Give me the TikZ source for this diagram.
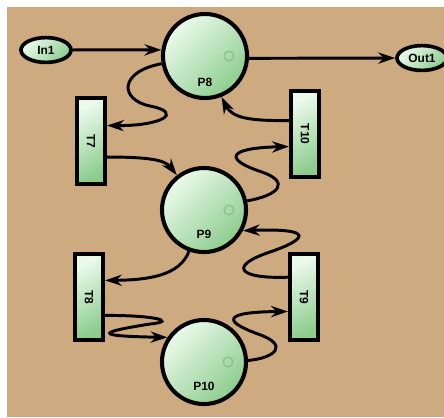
\documentclass[tikz,border=0pt]{standalone}
\usepackage{fontspec}
\setmainfont{Liberation Sans}
\usetikzlibrary{arrows, arrows.meta, shapes, positioning, backgrounds}
\definecolor{paper}{RGB}{206,170,128}
\definecolor{mintlight}{RGB}{236,250,236}
\definecolor{mintdark}{RGB}{140,205,142}
\definecolor{tokengreen}{RGB}{150,192,150}
\tikzset{
    place/.style={circle, draw, line width=2.9pt, minimum size=2.1cm, inner sep=0,
      top color=mintlight, bottom color=mintdark, shading angle=45},
    trans/.style={rectangle, draw, line width=2.9pt, minimum width=0.7cm,
      minimum height=2.17cm, inner sep=0, top color=mintlight,
      bottom color=mintdark, shading angle=30, font=\fontsize{8.5}{9}\selectfont\bfseries},
    port/.style={ellipse, draw, line width=2.6pt, minimum width=1.25cm,
      minimum height=0.62cm, inner sep=0, top color=mintlight,
      bottom color=mintdark, shading angle=45, font=\fontsize{8.5}{9}\selectfont\bfseries},
    every label/.style={font=\fontsize{8.5}{9}\selectfont\bfseries},
    arc/.style={-{Stealth[length=12pt, width=8pt]}, line width=2.1pt},
    token/.pic={
      \draw[tokengreen, line width=1.2pt] (0,0) circle (0.12cm);
    }
  }

\begin{document}
\begin{tikzpicture}[x=0.025cm, y=-0.025cm]
    \useasboundingbox (0,0) rectangle (444,417);
    \fill[paper] (7,7) rectangle (444,417);
    % places
    \node (P8) [place, label={[yshift=-0.65cm]center:P8}] at (205,56) {};
    \node (P9) [place, label={[yshift=-0.6cm]center:P9}] at (204,210) {};
    \node (P10) [place, label={[yshift=-0.62cm]center:P10}] at (204,362) {};
    \path (P8.center) ++(24,0) pic {token};
    \path (P9.center) ++(25,0) pic {token};
    \path (P10.center) ++(24,0) pic {token};
    % transitions
    \node (T7) [trans] at (91,141) {\rotatebox{-90}{T7}};
    \node (T10) [trans] at (305,134) {\rotatebox{-90}{T10}};
    \node (T8) [trans] at (89,297) {\rotatebox{-90}{T8}};
    \node (T9) [trans] at (304,297) {\rotatebox{-90}{T9}};
    % ports
    \node (In1) [port] at (46,50) {In1};
    \node (Out1) [port] at (422,58) {Out1};
    % arcs
    \draw[arc] (In1) -- (P8.172);
    \draw[arc] (P8.-3) -- (Out1);
    \draw[arc] (P8.190) .. controls (118,72) and (120,100) .. (150,106) .. controls (185,113) and (160,126) .. (T7.44);
    \draw[arc] (T7.-45) .. controls (150,157) and (165,160) .. (P9.128);
    \draw[arc] (P9.12) .. controls (280,195) and (290,182) .. (262,172) .. controls (225,160) and (225,148) .. (T10.218);
    \draw[arc] (T10.140) .. controls (250,121) and (232,118) .. (P8.-68);
    \draw[arc] (P9.250) .. controls (180,275) and (150,280) .. (T8.46);
    \draw[arc] (T9.129) .. controls (238,279) and (228,266) .. (270,252) .. controls (305,240) and (318,228) .. (P9.-28);
    \draw[arc] (T8.-49) .. controls (150,315) and (180,321) .. (150,324) .. controls (100,332) and (90,336) .. (P10.146);
    \draw[arc] (P10.2) .. controls (275,358) and (290,345) .. (258,334) .. controls (225,322) and (220,312) .. (T9.222);
\end{tikzpicture}
\end{document}
